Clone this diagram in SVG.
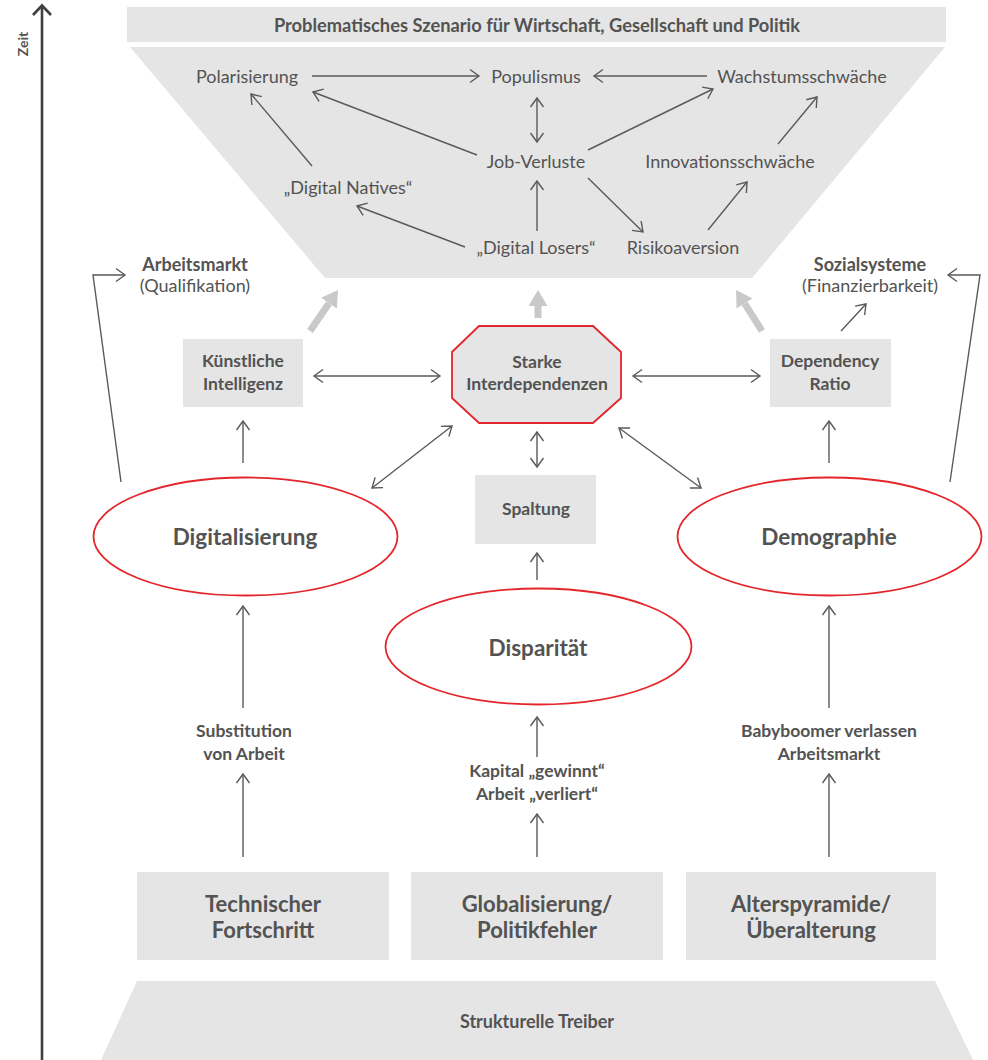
<svg xmlns="http://www.w3.org/2000/svg" width="988" height="1060" viewBox="0 0 988 1060">
<defs>
<style>
text{font-family:Lato,"Noto Sans","Liberation Sans",sans-serif;fill:#535353;text-anchor:middle;dominant-baseline:central}
.n{font-size:18px}
.sb{font-size:17.5px;font-weight:bold}
.lb{font-size:18px;font-weight:bold}
.big{font-size:22.5px;font-weight:bold}
.bx{font-size:22px;font-weight:bold}
.box{fill:#e5e5e5}
.red{fill:#ffffff;stroke:#e3262b;stroke-width:1.8}
.c{fill:none;stroke:#5a5a5a;stroke-width:1.4}
.g{fill:none;stroke:#c9c9c9;stroke-width:7}
</style>
<marker id="a" viewBox="-11 -8 13 16" markerWidth="13" markerHeight="16" refX="0" refY="0" orient="auto-start-reverse" markerUnits="userSpaceOnUse">
<path d="M-9,-6.5 L0,0 L-9,6.5" fill="none" stroke="#5a5a5a" stroke-width="1.4"/>
</marker>
<marker id="t" viewBox="0 -10 18 20" markerWidth="18" markerHeight="20" refX="0" refY="0" orient="auto" markerUnits="userSpaceOnUse">
<path d="M0,-9.5 L16,0 L0,9.5 Z" fill="#c9c9c9"/>
</marker>
</defs>
<rect width="988" height="1060" fill="#ffffff"/>

<g id="axis">
<line x1="42" y1="1060" x2="42" y2="7" stroke="#404040" stroke-width="2.6"/>
<path d="M33,15 L42,5.5 L51,15" fill="none" stroke="#404040" stroke-width="2.6"/>
<text transform="translate(22,44) rotate(-90)" style="font-size:14px;font-weight:bold">Zeit</text>
</g>

<g id="scenario">
<rect class="box" x="127" y="7" width="819" height="35"/>
<text x="537" y="24.5" style="font-size:18.3px;font-weight:bold">Problematisches Szenario für Wirtschaft, Gesellschaft und Politik</text>
<polygon class="box" points="130,47 945,47 752,278 325,278"/>
</g>

<g id="polarisierung"><text class="n" x="247" y="76">Polarisierung</text></g>
<g id="populismus"><text class="n" x="536" y="76">Populismus</text></g>
<g id="wachstumsschwaeche"><text class="n" x="802" y="76">Wachstumsschwäche</text></g>
<g id="jobverluste"><text class="n" x="536" y="161">Job-Verluste</text></g>
<g id="innovationsschwaeche"><text class="n" x="730" y="161">Innovationsschwäche</text></g>
<g id="digitalnatives"><text class="n" x="348" y="187">„Digital Natives“</text></g>
<g id="digitallosers"><text class="n" x="536" y="247">„Digital Losers“</text></g>
<g id="risikoaversion"><text class="n" x="683" y="247">Risikoaversion</text></g>

<g id="arbeitsmarkt">
<text x="195" y="264" class="lb">Arbeitsmarkt</text>
<text x="195" y="285" class="n">(Qualifikation)</text>
</g>
<g id="sozialsysteme">
<text x="870" y="264" class="lb">Sozialsysteme</text>
<text x="870" y="285" class="n">(Finanzierbarkeit)</text>
</g>

<g id="ki">
<rect class="box" x="183" y="339" width="120" height="68"/>
<text class="sb" x="243" y="360">Künstliche</text>
<text class="sb" x="243" y="383">Intelligenz</text>
</g>
<g id="interdependenzen">
<polygon points="479,326 593,326 621,352 621,398 593,423 479,423 452,398 452,352" fill="#e5e5e5" stroke="#e3262b" stroke-width="1.8"/>
<text class="sb" x="537" y="361">Starke</text>
<text class="sb" x="537" y="383">Interdependenzen</text>
</g>
<g id="dependency">
<rect class="box" x="770" y="339" width="121" height="68"/>
<text class="sb" x="830" y="360">Dependency</text>
<text class="sb" x="830" y="383">Ratio</text>
</g>
<g id="spaltung">
<rect class="box" x="475" y="475" width="121" height="69"/>
<text class="sb" x="536" y="508">Spaltung</text>
</g>

<g id="digitalisierung">
<ellipse class="red" cx="245.5" cy="536.5" rx="152" ry="59"/>
<text class="big" x="245" y="536">Digitalisierung</text>
</g>
<g id="disparitaet">
<ellipse class="red" cx="538.5" cy="646.5" rx="153" ry="58"/>
<text class="big" x="538" y="647">Disparität</text>
</g>
<g id="demographie">
<ellipse class="red" cx="829.5" cy="536.5" rx="152" ry="59"/>
<text class="big" x="829" y="536">Demographie</text>
</g>

<g id="substitution">
<text class="sb" x="244" y="730">Substitution</text>
<text class="sb" x="244" y="753">von Arbeit</text>
</g>
<g id="kapital">
<text class="sb" x="537" y="770">Kapital „gewinnt“</text>
<text class="sb" x="537" y="793">Arbeit „verliert“</text>
</g>
<g id="babyboomer">
<text class="sb" x="829" y="730">Babyboomer verlassen</text>
<text class="sb" x="829" y="753">Arbeitsmarkt</text>
</g>

<g id="technischer">
<rect class="box" x="137" y="872" width="252" height="88"/>
<text class="bx" x="263" y="903">Technischer</text>
<text class="bx" x="263" y="929">Fortschritt</text>
</g>
<g id="globalisierung">
<rect class="box" x="411" y="872" width="252" height="88"/>
<text class="bx" x="537" y="903">Globalisierung/</text>
<text class="bx" x="537" y="929">Politikfehler</text>
</g>
<g id="alterspyramide">
<rect class="box" x="686" y="872" width="250" height="88"/>
<text class="bx" x="811" y="903">Alterspyramide/</text>
<text class="bx" x="811" y="929">Überalterung</text>
</g>
<g id="treiber">
<polygon class="box" points="137,981 935,981 973,1060 101,1060"/>
<text x="537" y="1021" style="font-size:18px;font-weight:bold">Strukturelle Treiber</text>
</g>

<g id="connectors">
<line class="c" x1="312" y1="76" x2="479" y2="76" marker-end="url(#a)"/>
<line class="c" x1="707" y1="76" x2="594" y2="76" marker-end="url(#a)"/>
<line class="c" x1="477" y1="155" x2="313" y2="92" marker-end="url(#a)"/>
<line class="c" x1="588" y1="150" x2="713" y2="89" marker-end="url(#a)"/>
<line class="c" x1="537" y1="98" x2="537" y2="142" marker-start="url(#a)" marker-end="url(#a)"/>
<line class="c" x1="537" y1="231" x2="537" y2="181" marker-end="url(#a)"/>
<line class="c" x1="465" y1="247" x2="357" y2="206" marker-end="url(#a)"/>
<line class="c" x1="312" y1="166" x2="251" y2="94" marker-end="url(#a)"/>
<line class="c" x1="588" y1="178" x2="643" y2="232" marker-end="url(#a)"/>
<line class="c" x1="708" y1="230" x2="747" y2="182" marker-end="url(#a)"/>
<line class="c" x1="778" y1="144" x2="817" y2="97" marker-end="url(#a)"/>

<line class="g" x1="310" y1="331" x2="329" y2="303.2" marker-end="url(#t)"/>
<line class="g" x1="538" y1="318" x2="538" y2="306" marker-end="url(#t)"/>
<line class="g" x1="762" y1="331" x2="744.6" y2="303.5" marker-end="url(#t)"/>

<path class="c" d="M121,482 L93,275 L125,275" marker-end="url(#a)"/>
<path class="c" d="M950,482 L980,275 L948,275" marker-end="url(#a)"/>

<line class="c" x1="314" y1="376" x2="440" y2="376" marker-start="url(#a)" marker-end="url(#a)"/>
<line class="c" x1="633" y1="376" x2="760" y2="376" marker-start="url(#a)" marker-end="url(#a)"/>
<line class="c" x1="841" y1="331" x2="866" y2="304" marker-end="url(#a)"/>
<line class="c" x1="243" y1="463" x2="243" y2="421" marker-end="url(#a)"/>
<line class="c" x1="829" y1="463" x2="829" y2="421" marker-end="url(#a)"/>
<line class="c" x1="537" y1="432" x2="537" y2="467" marker-start="url(#a)" marker-end="url(#a)"/>
<line class="c" x1="372" y1="488" x2="452" y2="426" marker-start="url(#a)" marker-end="url(#a)"/>
<line class="c" x1="619" y1="428" x2="701" y2="488" marker-start="url(#a)" marker-end="url(#a)"/>
<line class="c" x1="537" y1="580" x2="537" y2="553" marker-end="url(#a)"/>

<line class="c" x1="243" y1="708" x2="243" y2="606" marker-end="url(#a)"/>
<line class="c" x1="243" y1="857" x2="243" y2="774" marker-end="url(#a)"/>
<line class="c" x1="537" y1="757" x2="537" y2="717" marker-end="url(#a)"/>
<line class="c" x1="537" y1="857" x2="537" y2="814" marker-end="url(#a)"/>
<line class="c" x1="829" y1="708" x2="829" y2="606" marker-end="url(#a)"/>
<line class="c" x1="829" y1="857" x2="829" y2="774" marker-end="url(#a)"/>
</g>
</svg>
